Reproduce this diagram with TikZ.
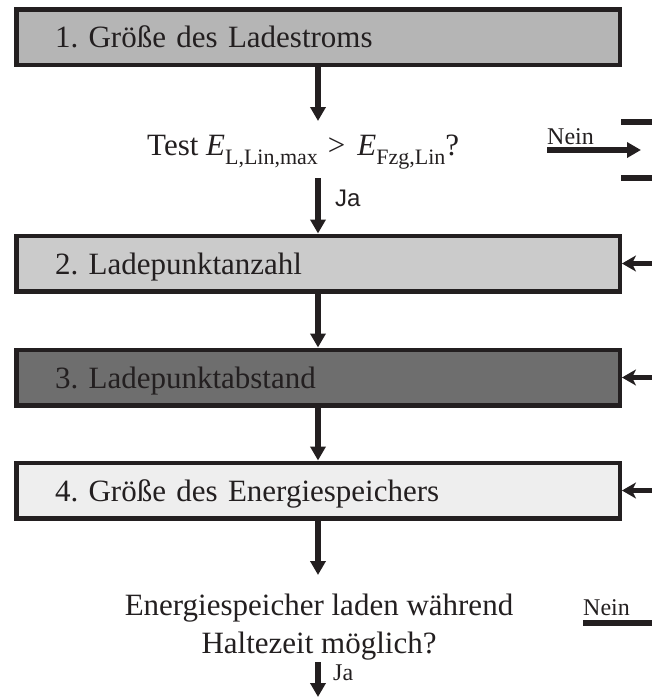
\documentclass[tikz,border=0pt]{standalone}
\usepackage{fontspec}
\setmainfont{Liberation Serif}
\newfontfamily\arialfont{Liberation Sans}
\usetikzlibrary{arrows.meta}
\definecolor{ink}{RGB}{35,31,32}
\definecolor{gA}{RGB}{181,181,181}
\definecolor{gB}{RGB}{203,203,203}
\definecolor{gC}{RGB}{110,110,110}
\definecolor{gD}{RGB}{238,238,238}
\newcommand\sbs[1]{\raisebox{-0.3em}{\fontsize{22}{22}\selectfont #1}}
\frenchspacing
\begin{document}
\begin{tikzpicture}[x=1pt,y=-1pt,
  box/.style={draw=ink, line width=4.5pt, minimum width=603.5pt, minimum height=55.5pt,
    text width=526pt, align=left, inner xsep=0pt, inner ysep=0pt,
    text height=21pt, text depth=0pt, font=\fontsize{31}{36}\selectfont, text=ink},
  bigtext/.style={font=\fontsize{31}{38}\selectfont, text=ink, inner sep=0pt},
  smalltext/.style={font=\fontsize{24}{26}\selectfont, text=ink, inner sep=0pt},
  arr/.style={draw=ink, line width=5.5pt, -{Triangle[width=15pt,length=14pt]}},
  larr/.style={draw=ink, line width=5.5pt, -{Stealth[width=16pt,length=14pt,inset=4pt]}},
  bar/.style={draw=ink, line width=5.5pt}
]
\useasboundingbox (0,0) rectangle (652,697);

% boxes
\node[box, fill=gA] (b1) at (318,37) {1. Größe des Ladestroms};
\node[box, fill=gB] (b2) at (318,263.5) {2. Ladepunktanzahl};
\node[box, fill=gC] (b3) at (318,377.5) {3. Ladepunktabstand};
\node[box, fill=gD] (b4) at (318,490.5) {4. Größe des Energiespeichers};

% test 1
\node[bigtext, anchor=base west] (test) at (147,155) {Test \textit{E}\sbs{L,Lin,max}\hspace{10pt}>\hspace{12pt}\textit{E}\sbs{Fzg,Lin}?};
\coordinate (t1in) at (318,121);
\coordinate (t1out) at (318,178);
\draw[arr] (b1.south) -- (t1in);
\draw[arr] (t1out) -- (b2.north);
\node[font=\arialfont\fontsize{24}{26}\selectfont, text=ink, inner sep=0pt, anchor=west] (ja1) at (335,198) {Ja};

% Nein 1
\node[smalltext, anchor=base west] (nein1) at (547,144) {Nein};
\coordinate (n1s) at (547,150);
\coordinate (n1e) at (641,150);
\draw[arr] (n1s) -- (n1e);
\coordinate (bar1a) at (621,122);
\coordinate (bar1b) at (652,122);
\coordinate (bar2a) at (621,178);
\coordinate (bar2b) at (652,178);
\draw[bar] (bar1a) -- (bar1b);
\draw[bar] (bar2a) -- (bar2b);

% chain arrows
\draw[arr] (b2.south) -- (b3.north);
\draw[arr] (b3.south) -- (b4.north);

% arrows from right
\coordinate (r2) at (652,263.5);
\coordinate (r3) at (652,377.5);
\coordinate (r4) at (652,490.5);
\draw[larr] (r2) -- (b2.east);
\draw[larr] (r3) -- (b3.east);
\draw[larr] (r4) -- (b4.east);

% test 2
\coordinate (t2in) at (318,575);
\draw[arr] (b4.south) -- (t2in);
\node[bigtext, align=center] (test2) at (319,627) {Energiespeicher laden während\\Haltezeit möglich?};
\coordinate (t2out) at (318,662);
\coordinate (t2end) at (318,697);
\draw[arr] (t2out) -- (t2end);
\node[font=\fontsize{24}{26}\selectfont, text=ink, inner sep=0pt, anchor=west] (ja2) at (333,673) {Ja};

% Nein 2
\node[smalltext, anchor=base west] (nein2) at (583,615) {Nein};
\coordinate (n2s) at (583,623);
\coordinate (n2e) at (652,623);
\draw[bar] (n2s) -- (n2e);
\end{tikzpicture}
\end{document}
